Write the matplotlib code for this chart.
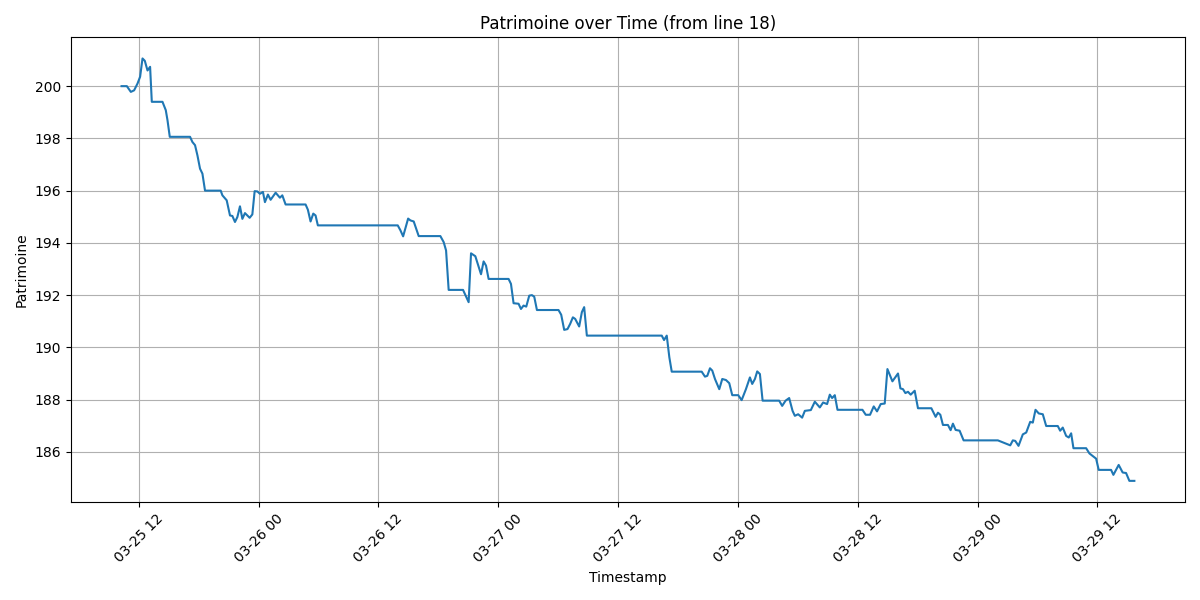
import matplotlib
matplotlib.use('Agg')
import matplotlib.pyplot as plt
import matplotlib.dates as mdates
import pandas as pd

START = pd.Timestamp('2025-03-25 00:00')

# hours elapsed since 03-25 00:00
hours = [10.27, 10.8, 11.2, 11.53, 11.87, 12.13, 12.37, 12.6, 12.87, 13.13,
         13.3, 14.37, 14.7, 14.87, 15.1, 17.13, 17.37, 17.63, 17.87, 18.13,
         18.37, 18.63, 20.2, 20.37, 20.8, 21.13, 21.37, 21.63, 21.87, 22.13,
         22.37, 22.63, 23.1, 23.37, 23.6, 23.87, 24.13, 24.43, 24.63, 24.93,
         25.2, 25.7, 26.13, 26.37, 26.7, 28.7, 28.93, 29.2, 29.47, 29.7,
         29.93, 37.93, 38.2, 38.47, 38.97, 39.2, 39.53, 40.03, 42.2, 42.53,
         42.77, 43.03, 44.47, 45.03, 45.27, 45.7, 46.27, 46.53, 46.77, 47.03,
         49.03, 49.27, 49.53, 50.03, 50.27, 50.53, 50.8, 51.1, 51.37, 51.6,
         51.87, 54.03, 54.3, 54.6, 54.93, 55.2, 55.47, 55.7, 56.1, 56.37,
         56.6, 56.87, 64.37, 64.6, 64.87, 65.13, 65.37, 68.37, 68.7, 68.93,
         69.2, 69.43, 69.7, 70.13, 70.43, 70.8, 71.13, 71.43, 72.03, 72.37,
         72.8, 73.2, 73.43, 73.7, 73.93, 74.2, 74.47, 76.13, 76.43, 76.77,
         77.13, 77.47, 77.7, 78.03, 78.43, 78.7, 79.3, 79.7, 80.2, 80.53,
         80.93, 81.2, 81.43, 81.7, 81.97, 84.47, 84.8, 85.23, 85.6, 85.93,
         86.3, 86.7, 86.97, 87.47, 88.03, 88.27, 88.53, 88.77, 89.03, 89.3,
         89.7, 90.03, 91.37, 91.8, 92.03, 92.27, 92.53, 93.03, 93.3, 93.53,
         93.8, 94.2, 94.6, 98.03, 99.27, 99.53, 99.77, 100.1, 100.53, 100.87,
         101.27, 101.53, 101.8, 102.13, 102.53, 102.87, 104.03, 104.27, 104.53, 104.87,
         105.13, 105.37, 105.6, 106.87, 107.2, 107.87, 108.13, 109.37, 109.6, 110.13,
         110.53, 110.87, 111.2, 111.7]

patrimoine = [200.0, 200.0, 199.78, 199.84, 200.1, 200.36, 201.06, 200.97, 200.6, 200.74,
              199.4, 199.4, 199.08, 198.7, 198.06, 198.06, 197.86, 197.74, 197.35, 196.84,
              196.65, 196.0, 196.0, 195.82, 195.63, 195.05, 195.03, 194.8, 194.99, 195.4,
              194.92, 195.14, 194.96, 195.09, 195.98, 195.97, 195.88, 195.95, 195.56, 195.85,
              195.65, 195.92, 195.73, 195.82, 195.47, 195.47, 195.27, 194.82, 195.12, 195.05,
              194.67, 194.67, 194.48, 194.25, 194.93, 194.86, 194.82, 194.26, 194.26, 194.03,
              193.71, 192.2, 192.2, 191.73, 193.6, 193.49, 192.8, 193.29, 193.13, 192.62,
              192.62, 192.43, 191.69, 191.67, 191.47, 191.6, 191.56, 191.98, 192.0, 191.94,
              191.43, 191.43, 191.25, 190.67, 190.7, 190.9, 191.15, 191.09, 190.8, 191.35,
              191.54, 190.45, 190.45, 190.28, 190.45, 189.62, 189.07, 189.07, 188.88, 188.91,
              189.2, 189.11, 188.79, 188.4, 188.79, 188.75, 188.63, 188.17, 188.17, 187.98,
              188.4, 188.85, 188.6, 188.79, 189.08, 188.98, 187.96, 187.96, 187.76, 187.96,
              188.06, 187.57, 187.38, 187.44, 187.31, 187.57, 187.6, 187.92, 187.7, 187.89,
              187.83, 188.19, 188.06, 188.17, 187.61, 187.61, 187.42, 187.42, 187.74, 187.55,
              187.83, 187.85, 189.17, 188.7, 189.0, 188.43, 188.4, 188.25, 188.3, 188.19,
              188.34, 187.67, 187.67, 187.34, 187.5, 187.42, 187.03, 187.03, 186.83, 187.08,
              186.84, 186.81, 186.44, 186.44, 186.25, 186.44, 186.42, 186.23, 186.67, 186.74,
              187.15, 187.12, 187.61, 187.47, 187.44, 186.99, 186.99, 186.81, 186.93, 186.61,
              186.55, 186.71, 186.14, 186.14, 185.94, 185.74, 185.31, 185.31, 185.12, 185.5,
              185.21, 185.19, 184.89, 184.89]

df = pd.DataFrame({'Timestamp': START + pd.to_timedelta(hours, unit='h'),
                   'Patrimoine': patrimoine})

fig, ax = plt.subplots(figsize=(12, 6), dpi=100)
ax.plot(df['Timestamp'], df['Patrimoine'])
ax.set_title('Patrimoine over Time (from line 18)')
ax.set_xlabel('Timestamp')
ax.set_ylabel('Patrimoine')
ax.grid(True)
ax.xaxis.set_major_locator(mdates.HourLocator(byhour=[0, 12]))
ax.xaxis.set_major_formatter(mdates.DateFormatter('%m-%d %H'))
plt.xticks(rotation=45)

fig.tight_layout()
fig.savefig('out.png')
